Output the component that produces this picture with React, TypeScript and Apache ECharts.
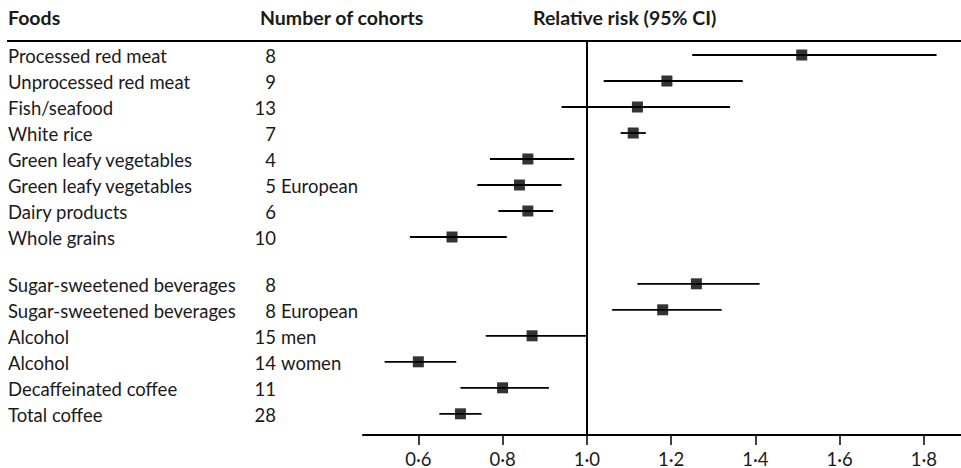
import React, { useEffect, useRef } from "react";
import * as echarts from "echarts";

const foods = [
  "Processed red meat",
  "Unprocessed red meat",
  "Fish/seafood",
  "White rice",
  "Green leafy vegetables",
  "Green leafy vegetables",
  "Dairy products",
  "Whole grains",
  "Sugar-sweetened beverages",
  "Sugar-sweetened beverages",
  "Alcohol",
  "Alcohol",
  "Decaffeinated coffee",
  "Total coffee",
];
const cohorts = [8, 9, 13, 7, 4, 5, 6, 10, 8, 8, 15, 14, 11, 28];
const notes = ["", "", "", "", "", "European", "", "", "", "European", "men", "women", "", ""];
const rr = [1.51, 1.19, 1.12, 1.11, 0.86, 0.84, 0.86, 0.68, 1.26, 1.18, 0.87, 0.6, 0.8, 0.7];
const lo = [1.25, 1.04, 0.94, 1.08, 0.77, 0.74, 0.79, 0.58, 1.12, 1.06, 0.76, 0.52, 0.7, 0.65];
const hi = [1.83, 1.37, 1.34, 1.14, 0.97, 0.94, 0.92, 0.81, 1.41, 1.32, 1.0, 0.69, 0.91, 0.75];
const groups = [0, 0, 0, 0, 0, 0, 0, 0, 1, 1, 1, 1, 1, 1];
const tickValues = [0.6, 0.8, 1.0, 1.2, 1.4, 1.6, 1.8];
const headers = ["Foods", "Number of cohorts", "Relative risk (95% CI)"];

const GROUP_GAP = 0.8;
const FONT = "Lato";
const INK = "#000";
const TEXT = "#1a1a1a";
const BODY = `18.5px ${FONT}`;
const HEAD = `bold 19.5px ${FONT}`;

export default function App() {
  const ref = useRef<HTMLDivElement>(null);
  useEffect(() => {
    if (!ref.current) return;
    const chart = echarts.init(ref.current, null, { renderer: "svg" });
    const rows = foods.map((_, i) => i + groups[i] * GROUP_GAP);
    const xMin = 0.4687;
    const xMax = 1.888;

    const option: any = {
      animation: false,
      backgroundColor: "#fff",
      textStyle: { fontFamily: FONT },
      grid: { left: 363, right: 0, top: 41, bottom: 33 },
      xAxis: {
        type: "value",
        position: "bottom",
        min: xMin,
        max: xMax,
        splitLine: { show: false },
        axisLine: { show: true, onZero: false, lineStyle: { color: INK, width: 2 } },
        axisTick: {
          show: true,
          customValues: tickValues,
          length: 10,
          lineStyle: { color: INK, width: 1.5 },
        },
        axisLabel: {
          show: true,
          customValues: tickValues,
          margin: 14,
          color: TEXT,
          fontFamily: FONT,
          fontSize: 18.5,
          formatter: (v: number) => v.toFixed(1).replace(".", "\u00b7"),
        },
      },
      yAxis: {
        type: "value",
        inverse: true,
        min: -0.5385,
        max: 14.615,
        show: false,
        splitLine: { show: false },
      },
      graphic: [
        {
          type: "text",
          left: 8,
          top: 7,
          style: { text: headers[0], fill: TEXT, font: HEAD },
        },
        {
          type: "text",
          left: 260,
          top: 7,
          style: { text: headers[1], fill: TEXT, font: HEAD },
        },
        {
          type: "text",
          left: 533,
          top: 7,
          style: { text: headers[2], fill: TEXT, font: HEAD },
        },
        {
          type: "line",
          shape: { x1: 7, y1: 41, x2: 961, y2: 41 },
          style: { stroke: INK, lineWidth: 2 },
        },
      ],
      series: [
        {
          type: "custom",
          name: "labels",
          silent: true,
          clip: false,
          encode: { x: 0, y: 1 },
          data: rows.map((r) => [1, r]),
          renderItem: (params: any, api: any) => {
            const i = params.dataIndex;
            const y = api.coord([1, api.value(1)])[1] + 1;
            const children: any[] = [
              {
                type: "text",
                style: {
                  text: foods[i],
                  x: 8,
                  y,
                  verticalAlign: "middle",
                  align: "left",
                  fill: TEXT,
                  font: BODY,
                },
              },
              {
                type: "text",
                style: {
                  text: String(cohorts[i]),
                  x: 276,
                  y,
                  verticalAlign: "middle",
                  align: "right",
                  fill: TEXT,
                  font: BODY,
                },
              },
            ];
            if (notes[i]) {
              children.push({
                type: "text",
                style: {
                  text: notes[i],
                  x: 281,
                  y,
                  verticalAlign: "middle",
                  align: "left",
                  fill: TEXT,
                  font: BODY,
                },
              });
            }
            return { type: "group", children };
          },
        },
        {
          type: "custom",
          name: "ci",
          silent: true,
          encode: { x: [0, 1], y: 2 },
          data: rows.map((r, i) => [lo[i], hi[i], r]),
          renderItem: (params: any, api: any) => {
            const p1 = api.coord([api.value(0), api.value(2)]);
            const p2 = api.coord([api.value(1), api.value(2)]);
            return {
              type: "line",
              shape: { x1: p1[0], y1: p1[1], x2: p2[0], y2: p2[1] },
              style: { stroke: INK, lineWidth: 1.8 },
            };
          },
          z: 2,
        },
        {
          type: "scatter",
          name: "rr",
          silent: true,
          symbol: "rect",
          symbolSize: 11,
          itemStyle: { color: "#000" },
          data: rows.map((r, i) => [rr[i], r]),
          z: 3,
          markLine: {
            silent: true,
            symbol: "none",
            label: { show: false },
            lineStyle: { color: INK, width: 2, type: "solid" },
            data: [{ xAxis: 1 }],
          },
        },
      ],
    };
    chart.setOption(option);
    return () => chart.dispose();
  }, []);

  return (
    <div
      ref={ref}
      style={{ position: "fixed", left: 0, top: 0, width: 961, height: 468, background: "#fff" }}
    />
  );
}
